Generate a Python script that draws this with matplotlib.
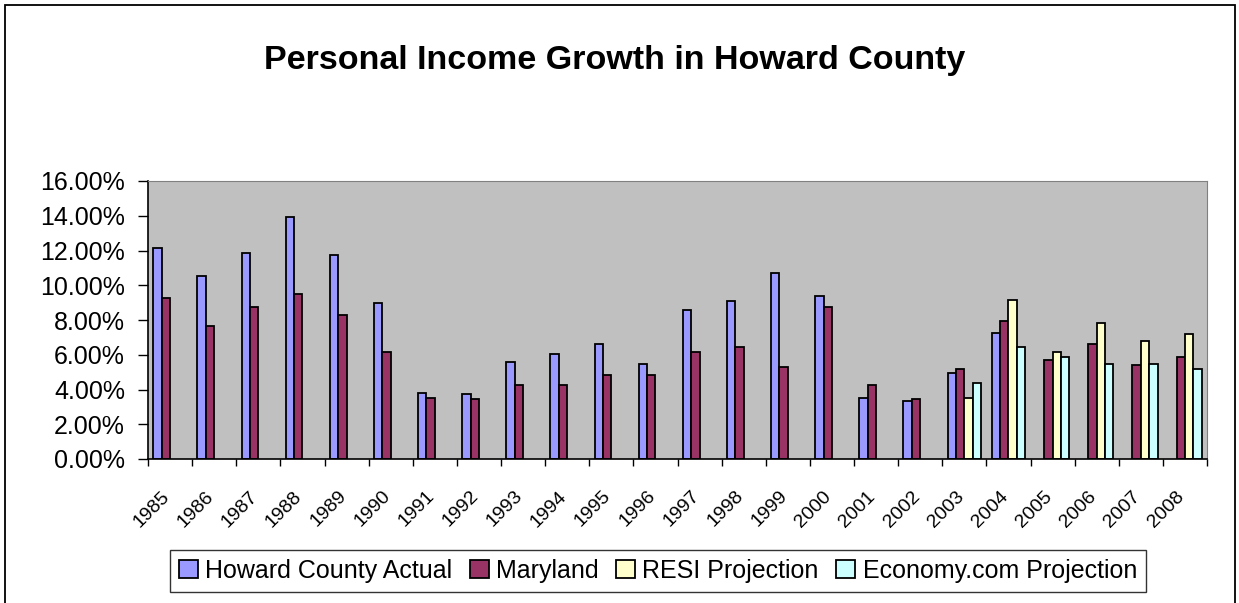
import matplotlib.pyplot as plt
from matplotlib.patches import Rectangle
from matplotlib.transforms import ScaledTranslation
import numpy as np

plt.rcParams['font.family'] = ['Liberation Sans', 'DejaVu Sans']

years = [str(y) for y in range(1985, 2009)]

# growth rates in percent, None where a series has no value for that year
howard = [12.14, 10.53, 11.86, 13.9, 11.74, 8.97, 3.81, 3.72, 5.57, 6.04,
          6.62, 5.49, 8.57, 9.12, 10.71, 9.41, 3.52, 3.35, 4.93, 7.27,
          None, None, None, None]
maryland = [9.25, 7.66, 8.77, 9.52, 8.29, 6.15, 3.52, 3.45, 4.27, 4.27,
            4.84, 4.84, 6.14, 6.43, 5.30, 8.76, 4.27, 3.43, 5.20, 7.92,
            5.68, 6.62, 5.39, 5.87]
resi = [None] * 18 + [3.52, 9.14, 6.14, 7.82, 6.79, 7.17]
economy = [None] * 18 + [4.38, 6.43, 5.87, 5.49, 5.49, 5.20]

series = [
    ("Howard County Actual", howard, "#9999FF"),
    ("Maryland", maryland, "#993366"),
    ("RESI Projection", resi, "#FFFFCC"),
    ("Economy.com Projection", economy, "#CCFFFF"),
]

fig = plt.figure(figsize=(12.39, 6.03), dpi=100)
ax = fig.add_axes([148 / 1239, 144 / 603, 1059 / 1239, 278 / 603])
ax.set_facecolor("#C0C0C0")

x = np.arange(len(years))
w = 0.19
for i, (name, vals, color) in enumerate(series):
    v = np.array([np.nan if a is None else a for a in vals], dtype=float)
    ax.bar(x + (i - 1.5) * w, v, width=w, color=color, edgecolor="black",
           linewidth=1.3, label=name)

ax.set_xlim(-0.5, len(years) - 0.5)
ax.set_ylim(0, 16)
ax.set_yticks(np.arange(0, 17, 2))
ax.set_yticklabels(["%.2f%%" % t for t in np.arange(0, 17, 2)])
ax.tick_params(axis="y", direction="out", length=7.2, width=1, labelsize=18, pad=9.4)

# tick marks sit between categories, labels at the category centres
ax.set_xticks(np.arange(-0.5, len(years), 1))
ax.set_xticklabels([])
ax.tick_params(axis="x", which="major", direction="out", length=5, width=1)
ax.set_xticks(x, minor=True)
ax.set_xticklabels(years, minor=True, rotation=45, ha="right", va="center",
                   rotation_mode="anchor", fontsize=14)
ax.tick_params(axis="x", which="minor", length=0, pad=25)
shift = ScaledTranslation(-3 / 100, 0, fig.dpi_scale_trans)
for lab in ax.get_xticklabels(minor=True):
    lab.set_transform(lab.get_transform() + shift)

for side in ["top", "right"]:
    ax.spines[side].set_color("#808080")
for side in ["left", "bottom"]:
    ax.spines[side].set_color("black")
    ax.spines[side].set_linewidth(1.2)

fig.text(615 / 1239, 1 - 60 / 603, "Personal Income Growth in Howard County",
         ha="center", va="center", fontsize=24.5, fontweight="bold")

leg = fig.legend(loc="center", bbox_to_anchor=(658 / 1239, 1 - 571 / 603),
                 ncol=4, fontsize=18, frameon=True, fancybox=False,
                 handlelength=0.75, handleheight=0.75, handletextpad=0.3,
                 columnspacing=0.7, borderpad=0.35, borderaxespad=0)
leg.get_frame().set_edgecolor("black")
leg.get_frame().set_linewidth(1.0)

# outer chart border
fig.patches.append(Rectangle((5 / 1239, -0.02), 1230 / 1239, 1 - 5 / 603 + 0.02,
                             transform=fig.transFigure, fill=False,
                             edgecolor="black", linewidth=1.3))

fig.savefig("out.png", dpi=100)
